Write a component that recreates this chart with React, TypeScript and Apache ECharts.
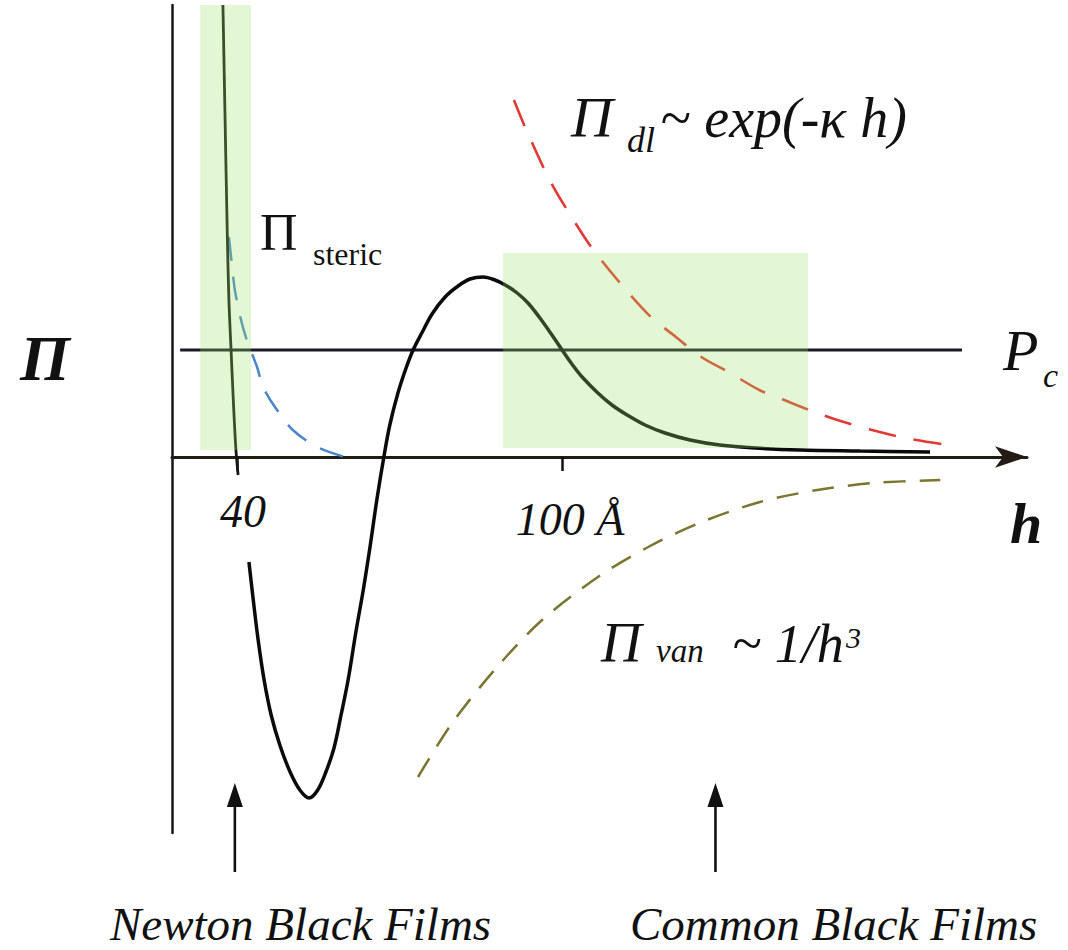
import React, { useEffect, useRef } from 'react';
import * as echarts from 'echarts';

// axis extents (h in Å, Π in arbitrary units)
const H_MIN = 28;
const H_MAX = 185.8;
const P_MIN = -3.76;
const P_MAX = 4.52;

const tickValues = [40, 100];
const tickLabels = ['40', '100 Å'];

const pcValue = 1.07;
const pcRange = [29.5, 173.8];

// total disjoining pressure isotherm
const totalCurve: [number, number][] = [
  [42.2, -1.05], [43.0, -1.43], [43.9, -1.83], [45.0, -2.23], [46.3, -2.58], [47.9, -2.88],
  [49.8, -3.15], [51.6, -3.33], [53.3, -3.41], [54.9, -3.33], [56.4, -3.15], [57.9, -2.91],
  [59.2, -2.58], [60.5, -2.23], [62.0, -1.73], [63.3, -1.33], [64.6, -0.88], [65.8, -0.43],
  [67.1, 0.0], [68.2, 0.32], [69.7, 0.64], [71.2, 0.89], [72.5, 1.07], [74.2, 1.25],
  [76.0, 1.43], [78.4, 1.6], [80.8, 1.71], [83.0, 1.78], [85.4, 1.8], [87.6, 1.77],
  [89.5, 1.72], [91.7, 1.64], [93.7, 1.54], [95.9, 1.39], [98.0, 1.23], [100.0, 1.07],
  [101.8, 0.93], [103.7, 0.8], [106.6, 0.64], [109.2, 0.52], [112.0, 0.42], [115.3, 0.32],
  [119.0, 0.24], [123.6, 0.17], [129.1, 0.12], [135.6, 0.09], [143.9, 0.07], [155.0, 0.06],
  [167.9, 0.05],
];

// steric branch (solid, near-vertical)
const stericSolid: [number, number][] = [
  [37.4, 4.52], [37.8, 3.37], [38.2, 2.24], [38.5, 1.57], [38.9, 1.07], [39.4, 0.47],
  [39.8, 0.07], [40.2, -0.18],
];

// steric component (blue dashed)
const stericDashed: [number, number][] = [
  [38.5, 2.2], [39.1, 1.9], [39.6, 1.67], [40.6, 1.4], [41.8, 1.17], [43.7, 0.9],
  [44.8, 0.7], [47.0, 0.5], [50.3, 0.27], [54.8, 0.1], [59.9, 0.0],
];

// electrostatic double layer component (red dashed)
const doubleLayer: [number, number][] = [
  [91.1, 3.57], [93.4, 3.27], [98.0, 2.74], [104.1, 2.2], [107.2, 1.97], [111.8, 1.67],
  [116.4, 1.4], [121.0, 1.2], [125.7, 1.0], [131.0, 0.84], [136.4, 0.67], [141.0, 0.57],
  [145.6, 0.47], [150.8, 0.37], [157.2, 0.27], [163.3, 0.19], [170.0, 0.13],
];

// van der Waals component (olive dashed)
const vanDerWaals: [number, number][] = [
  [73.4, -3.2], [79.7, -2.66], [88.0, -2.1], [96.3, -1.63], [106.6, -1.2], [115.9, -0.9],
  [125.3, -0.66], [136.5, -0.45], [147.1, -0.33], [157.4, -0.26], [169.8, -0.23],
];

// highlighted zones [h0, h1, Π0, Π1]
const greenZones: number[][] = [
  [33.2, 42.6, 0.07, 4.52],
  [89.1, 145.4, 0.09, 2.04],
];

// marker arrows (h position, Π from, Π to)
const arrowH = [39.6, 128.3];
const arrowFrom = -4.15;
const arrowTo = -3.26;

const SERIF = 'Liberation Serif';
const INK = '#111111';

let uid = 0;
function txt(
  text: string, x: number, baseline: number, size: number,
  italic = true, bold = false, align: string = 'left',
) {
  const font = (italic ? 'italic ' : '') + (bold ? 'bold ' : '') + size + 'px ' + SERIF;
  uid += 1;
  return {
    id: 't' + uid,
    type: 'text',
    x,
    y: baseline - 0.3375 * size,
    style: {
      text,
      font,
      fill: INK,
      align,
      verticalAlign: 'middle',
    },
  };
}

export default function App() {
  const ref = useRef<HTMLDivElement>(null);

  useEffect(() => {
    if (!ref.current) return;
    const chart = echarts.init(ref.current, null, { renderer: 'svg' });

    const labels: any[] = [
      txt('Π', 20, 380, 64, true, true),
      txt('Π', 260, 250, 52, false),
      txt('steric', 313, 265, 32, false),
      txt('Π', 571, 137, 58, true),
      txt('dl', 627, 152, 36, true),
      txt('~ exp(-κ h)', 660, 137, 56, true),
      txt('Π', 601, 662, 56, true),
      txt('van', 656, 662, 33, true),
      txt('~ 1/h', 732, 662, 54, true),
      txt('3', 846, 648, 30, true),
      txt('P', 1003, 370, 58, true),
      txt('c', 1043, 387, 34, true),
      txt('h', 1010, 543, 58, true, true),
      txt('Newton Black Films', 110, 940, 47, true),
      txt('Common Black Films', 630, 940, 47, true),
    ];

    const option: any = {
      animation: false,
      backgroundColor: '#ffffff',
      grid: { left: 172, right: 1068 - 1027, top: 5, bottom: 950 - 833 },
      xAxis: {
        type: 'value',
        min: H_MIN,
        max: H_MAX,
        splitLine: { show: false },
        axisLine: {
          show: true,
          onZero: true,
          symbol: ['none', 'arrow'],
          symbolSize: [16, 32],
          lineStyle: { color: '#231c14', width: 3 },
        },
        axisTick: {
          show: true,
          customValues: tickValues,
          length: 14,
          lineStyle: { color: INK, width: 2.5 },
        },
        axisLabel: { show: false },
      },
      yAxis: {
        type: 'value',
        min: P_MIN,
        max: P_MAX,
        splitLine: { show: false },
        axisTick: { show: false },
        axisLabel: { show: false },
        axisLine: { show: true, onZero: false, lineStyle: { color: '#151515', width: 2.5 } },
      },
      graphic: labels,
      series: [
        {
          name: 'Pc',
          type: 'line',
          data: [[pcRange[0], pcValue], [pcRange[1], pcValue]],
          showSymbol: false,
          lineStyle: { color: '#1a1a26', width: 3 },
          z: 2,
        },
        {
          name: 'steric dashed',
          type: 'line',
          data: stericDashed,
          showSymbol: false,
          smooth: 0.3,
          lineStyle: { color: '#4a86c8', width: 2.5, type: [24, 16] },
          z: 2,
        },
        {
          name: 'double layer',
          type: 'line',
          data: doubleLayer,
          showSymbol: false,
          smooth: 0.3,
          lineStyle: { color: '#e03a34', width: 2.6, type: [28, 18] },
          z: 2,
        },
        {
          name: 'van der Waals',
          type: 'line',
          data: vanDerWaals,
          showSymbol: false,
          smooth: 0.3,
          lineStyle: { color: '#7a7630', width: 2.5, type: [22, 14] },
          z: 2,
        },
        {
          name: 'steric',
          type: 'line',
          data: stericSolid,
          showSymbol: false,
          smooth: 0.3,
          lineStyle: { color: '#121812', width: 2.8 },
          z: 3,
        },
        {
          name: 'total',
          type: 'line',
          data: totalCurve,
          showSymbol: false,
          smooth: 0.35,
          lineStyle: { color: '#0a0a0a', width: 3.5 },
          z: 3,
        },
        {
          name: 'zones',
          type: 'custom',
          data: greenZones,
          z: 10,
          silent: true,
          renderItem: (params: any, api: any) => {
            const p0 = api.coord([api.value(0), api.value(3)]);
            const p1 = api.coord([api.value(1), api.value(2)]);
            return {
              type: 'rect',
              shape: { x: p0[0], y: p0[1], width: p1[0] - p0[0], height: p1[1] - p0[1] },
              style: { fill: 'rgba(159,226,102,0.28)' },
            };
          },
          encode: { x: [0, 1], y: [2, 3] },
        },
      ],
    };

    chart.setOption(option);

    const extra: any[] = [];
    arrowH.forEach((h, i) => {
      const a = chart.convertToPixel({ gridIndex: 0 }, [h, arrowFrom]) as number[];
      const b = chart.convertToPixel({ gridIndex: 0 }, [h, arrowTo]) as number[];
      extra.push({
        id: 'arrowLine' + i,
        type: 'line',
        silent: true,
        z: 20,
        shape: { x1: a[0], y1: a[1], x2: b[0], y2: b[1] + 18 },
        style: { stroke: INK, lineWidth: 2.6 },
      });
      extra.push({
        id: 'arrowHead' + i,
        type: 'polygon',
        silent: true,
        z: 20,
        shape: { points: [[b[0], b[1]], [b[0] - 8, b[1] + 24], [b[0] + 8, b[1] + 24]] },
        style: { fill: INK },
      });
    });

    // tick labels, placed under their ticks
    const tickOffsets = [6, 8];
    const tickBaselines = [527, 535];
    tickValues.forEach((v, i) => {
      const p = chart.convertToPixel({ gridIndex: 0 }, [v, 0]) as number[];
      extra.push(txt(tickLabels[i], p[0] + tickOffsets[i], tickBaselines[i], 46, true, false, 'center'));
    });

    chart.setOption({ graphic: extra });

    return () => chart.dispose();
  }, []);

  return (
    <div
      ref={ref}
      style={{ position: 'absolute', left: 0, top: 0, width: 1068, height: 950 }}
    />
  );
}
